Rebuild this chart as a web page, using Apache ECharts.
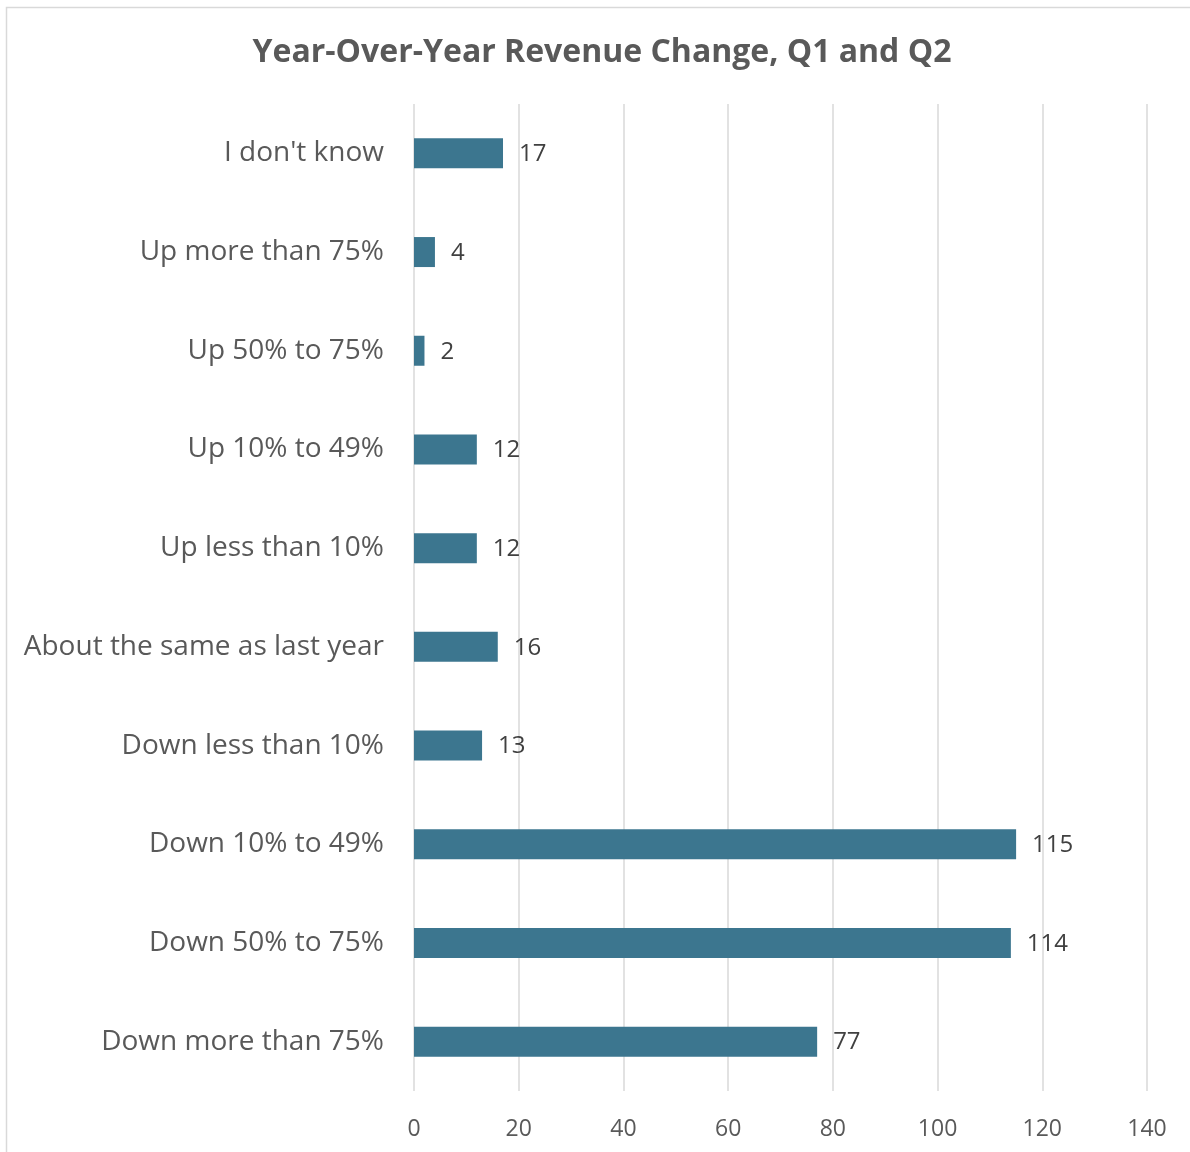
<!DOCTYPE html>
<html><head><meta charset="utf-8">
<script src="https://cdn.jsdelivr.net/npm/echarts@6/dist/echarts.min.js"></script>
<style>html,body{margin:0;padding:0;background:#fff}#c{width:1190px;height:1152px}</style>
</head><body><div id="c"></div>
<script>
const categories = ["Down more than 75%","Down 50% to 75%","Down 10% to 49%","Down less than 10%","About the same as last year","Up less than 10%","Up 10% to 49%","Up 50% to 75%","Up more than 75%","I don't know"];
const values = [77,114,115,13,16,12,12,2,4,17];
const xTicks = {min:0,max:140,interval:20};
const titleText = "Year-Over-Year Revenue Change, Q1 and Q2";

const chart = echarts.init(document.getElementById('c'));
chart.setOption({
  backgroundColor:'#fff',
  animation:false,
  title:{text:titleText,left:597,top:32,textAlign:'center',textStyle:{fontFamily:'Open Sans',fontSize:32,fontWeight:'bold',color:'#595959'}},
  graphic:[{type:'polyline',shape:{points:[[6.5,1200],[6.5,7.5],[1200,7.5]]},style:{stroke:'#d9d9d9',lineWidth:1.5,fill:null}}],
  grid:{left:414,right:43,top:104,bottom:61,containLabel:false},
  xAxis:{type:'value',min:xTicks.min,max:xTicks.max,interval:xTicks.interval,
    axisLine:{show:false},axisTick:{show:false},
    splitLine:{lineStyle:{color:'#d9d9d9',width:1.5}},
    axisLabel:{fontFamily:'Open Sans',fontSize:23,color:'#595959',margin:27}},
  yAxis:{type:'category',data:categories,
    axisLine:{show:false},axisTick:{show:false},
    axisLabel:{fontFamily:'Open Sans',fontSize:28,color:'#595959',margin:30}},
  series:[{type:'bar',data:values,barWidth:30,itemStyle:{color:'#3c768f'},
    label:{show:true,position:'right',distance:16,fontFamily:'Open Sans',fontSize:24,color:'#404040',offset:[0,1]}}]
});
</script></body></html>
